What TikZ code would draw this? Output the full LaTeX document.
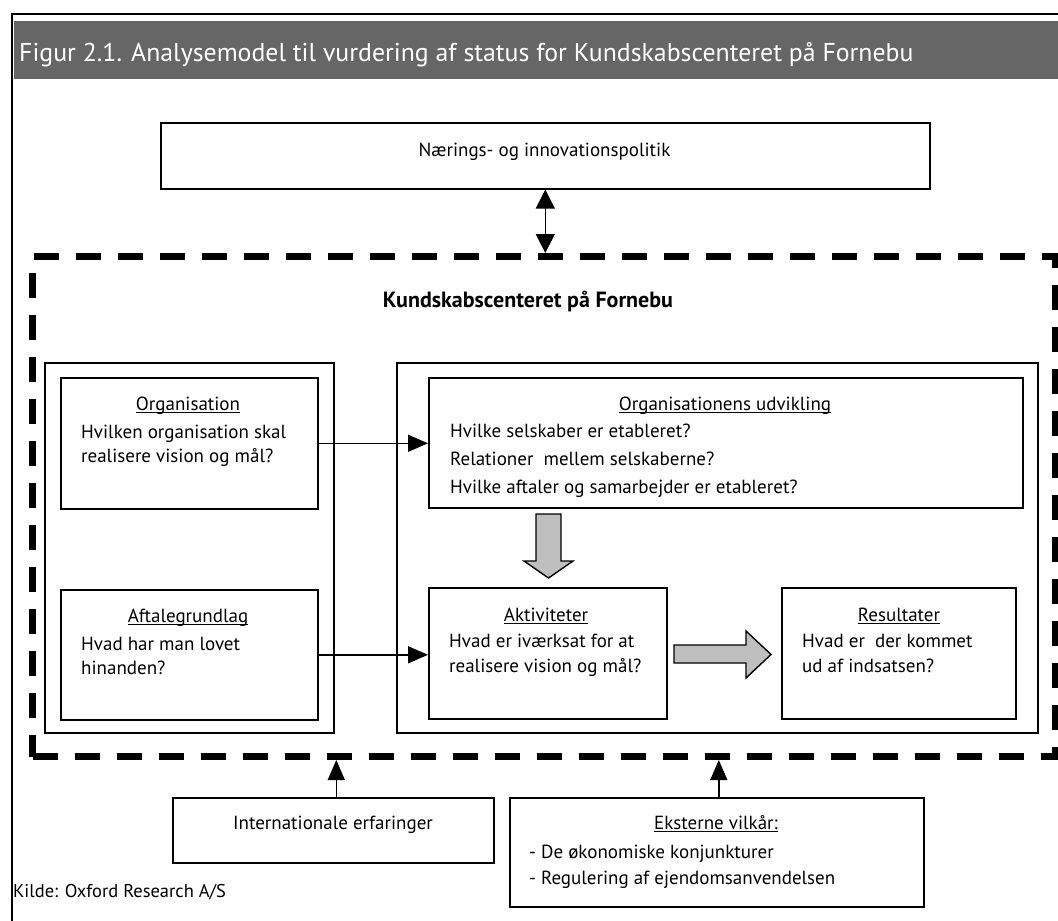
\documentclass[tikz,border=0pt]{standalone}
\usepackage{fontspec}
\setmainfont{PT Sans}
\usetikzlibrary{arrows.meta}

% underline that cuts through descenders
\newcommand{\ulbox}[1]{\setbox0\hbox{#1}\rlap{\rule[-2.6pt]{\wd0}{0.9pt}}\box0}

\tikzset{
  frame/.style={draw, line width=1.6pt, inner sep=0pt, anchor=north west},
  centrebox/.style={draw, line width=7pt, dash pattern=on 25pt off 17pt, inner sep=0pt, anchor=north west},
  txt/.style={font=\fontsize{19}{24}\selectfont, inner sep=0pt, anchor=base west, align=left},
  head/.style={txt, anchor=base},
  link/.style={line width=1.4pt, -{Triangle[length=20pt, width=17pt]}},
  fat/.style={draw, line width=1.4pt, fill=black!25, line join=miter}
}

\begin{document}
\begin{tikzpicture}[x=1pt, y=-1pt]
    \useasboundingbox (0,0) rectangle (1058,921);

    % frame and title bar
    \draw[line width=2.4pt] (12,921) -- (12,14) -- (1058,14);
    \node[anchor=north west, fill=black!60, inner sep=0pt, minimum width=1044pt, minimum height=58pt] (bar) at (14,21) {};
    \node[anchor=base west, inner sep=0pt, text=white, font=\fontsize{25.8}{30}\selectfont] (title) at (19,61)
        {Figur 2.1. Analysemodel til vurdering af status for Kundskabscenteret på Fornebu};

    % policy box
    \node[frame, minimum width=769pt, minimum height=66pt] (policy) at (160,122) {};
    \node[head] (policytxt) at (544.5,156) {Nærings- og innovationspolitik};

    % the centre
    \node[centrebox, minimum width=1023pt, minimum height=500pt] (centre) at (29,253) {};
    \node[head, font=\fontsize{22}{26}\selectfont\bfseries] (centretxt) at (528,307) {Kundskabscenteret på Fornebu};

    \node[frame, minimum width=289pt, minimum height=370pt] (basis) at (44,362) {};
    \node[frame, minimum width=641pt, minimum height=370pt] (process) at (396,362) {};

    % multi-line texts are placed by the baseline of their last line
    \node[frame, minimum width=257pt, minimum height=131pt] (org) at (60,377) {};
    \node[head] (orghead) at (188,410) {\ulbox{Organisation}};
    \node[txt] (orgtxt) at (81,462) {Hvilken organisation skal\\realisere vision og mål?};

    \node[frame, minimum width=257pt, minimum height=130pt] (deal) at (60,589) {};
    \node[head] (dealhead) at (188,622) {\ulbox{Aftalegrundlag}};
    \node[txt] (dealtxt) at (81,674) {Hvad har man lovet\\hinanden?};

    \node[frame, minimum width=594pt, minimum height=130pt] (orgdev) at (428,377) {};
    \node[head] (orgdevhead) at (725,410) {\ulbox{Organisationens udvikling}};
    \node[txt, font=\fontsize{19}{28}\selectfont] (orgdevtxt) at (450,493)
        {Hvilke selskaber er etableret?\\Relationer\ \ mellem selskaberne?\\Hvilke aftaler og samarbejder er etableret?};

    \node[frame, minimum width=238pt, minimum height=131pt] (act) at (428,587) {};
    \node[head] (acthead) at (546,621) {\ulbox{Aktiviteter}};
    \node[txt, font=\fontsize{19}{25}\selectfont] (acttxt) at (449,672) {Hvad er iværksat for at\\realisere vision og mål?};

    \node[frame, minimum width=234pt, minimum height=131pt] (res) at (781,587) {};
    \node[head] (reshead) at (899,621) {\ulbox{Resultater}};
    \node[txt, font=\fontsize{19}{25}\selectfont] (restxt) at (802,672) {Hvad er\ \ der kommet\\ud af indsatsen?};

    % outside influences
    \node[frame, minimum width=321pt, minimum height=65pt] (intl) at (172,797) {};
    \node[head] (intltxt) at (333,829) {Internationale erfaringer};

    \node[frame, minimum width=414pt, minimum height=109pt] (ext) at (509,797) {};
    \node[head] (exthead) at (716,829) {\ulbox{Eksterne vilkår:}};
    \node[txt, font=\fontsize{19}{26}\selectfont] (exttxt) at (529,884)
        {- De økonomiske konjunkturer\\- Regulering af ejendomsanvendelsen};

    \node[txt, font=\fontsize{18.5}{22}\selectfont] (source) at (13,897) {Kilde: Oxford Research A/S};

    % connectors
    \draw[link, {Triangle[length=19pt, width=19pt]}-{Triangle[length=19pt, width=19pt]}] (policy.south) -- (policy.south |- centre.north);
    \draw[link] (org.east) -- (orgdev.west |- org.east);
    \draw[link] (deal.east) -- (act.west |- deal.east);
    \draw[link] ([xshift=3pt]intl.north) -- ([xshift=3pt]intl.north |- centre.south);
    \draw[link] ([xshift=2pt]ext.north) -- ([xshift=2pt]ext.north |- centre.south);

    % block arrows
    \draw[fat] (536,514) -- (561,514) -- (561,561) -- (573,561) -- (548.5,578) -- (524,561) -- (536,561) -- cycle;
    \draw[fat] (674,645) -- (746,645) -- (746,631) -- (771,654.5) -- (746,678) -- (746,663) -- (674,663) -- cycle;

\end{tikzpicture}
\end{document}
